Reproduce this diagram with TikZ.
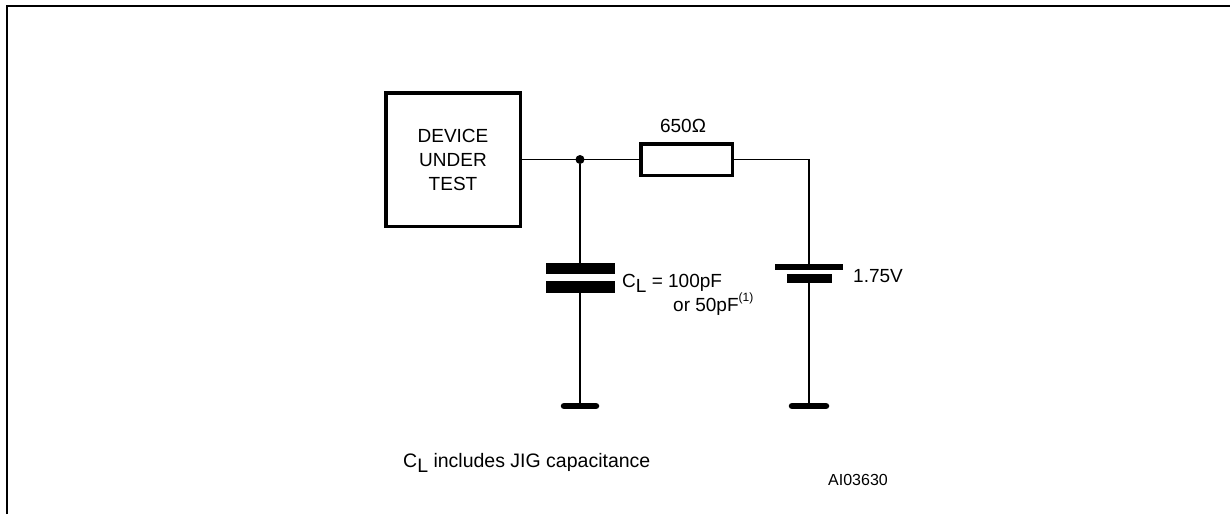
\documentclass[tikz,border=0pt]{standalone}
\usepackage{fontspec}
\setmainfont{Liberation Sans}
\usetikzlibrary{positioning}
\newcommand{\Lsub}{\raisebox{-5pt}{L}}
\begin{document}
\begin{tikzpicture}[x=1pt,y=-1pt]
\tikzstyle{every node}=[font=\fontsize{19}{24}\selectfont, inner sep=0pt]
\tikzstyle{wire}=[line width=1.3pt]
\tikzstyle{plate}=[fill=black, draw=none, minimum width=69pt, minimum height=11.5pt]
\tikzstyle{gnd}=[line width=6.5pt, line cap=round]
	\useasboundingbox (0,0) rectangle (1230,514);
	\draw[line width=2.6pt] (7,514) -- (7,6) -- (1230,6);

	\node[draw, line width=3.5pt, minimum width=134.5pt, minimum height=133.5pt, align=center] (dut) at (453,159.5) {DEVICE\\UNDER\\TEST};
	\node[draw, line width=3.5pt, minimum width=91.5pt, minimum height=31.5pt] (res) at (686.5,159.5) {};
	\node[anchor=base] (rlabel) at (683,132) {650Ω};
	\node[circle, fill, minimum size=9pt] (j) at (580,159.5) {};

	\node[plate] (capA) at (580,268.5) {};
	\node[plate] (capB) at (580,287) {};
	\node[plate, minimum width=68pt, minimum height=6pt] (batA) at (809,267) {};
	\node[plate, minimum width=45pt, minimum height=9pt] (batB) at (809,278.5) {};
	\coordinate (gndC) at (580,406);
	\coordinate (gndB) at (809,406);

	\draw[wire] (dut.east) -- (res.west);
	\draw[wire] (res.east) -| (batA.north);
	\draw[wire] (j) -- (capA.north);
	\draw[wire] (capB.south) -- (gndC);
	\draw[wire] (batB.south) -- (gndB);
	\draw[gnd] ([xshift=-16pt]gndC) -- ([xshift=16pt]gndC);
	\draw[gnd] ([xshift=-17pt]gndB) -- ([xshift=17pt]gndB);

	\node[anchor=base west] (clabel) at (622,287) {C\Lsub\ = 100pF};
	\node[anchor=base west] (clabel2) at (673,311) {or 50pF\raisebox{0.5em}{\fontsize{12}{12}\selectfont(1)}};
	\node[anchor=base west] (vlabel) at (853,282) {1.75V};
	\node[anchor=base west, font=\fontsize{19.5}{24}\selectfont] (note) at (403,467) {C\Lsub\ includes JIG capacitance};
	\node[anchor=base west, font=\fontsize{16}{16}\selectfont] (ref) at (828,485) {AI03630};
\end{tikzpicture}
\end{document}
